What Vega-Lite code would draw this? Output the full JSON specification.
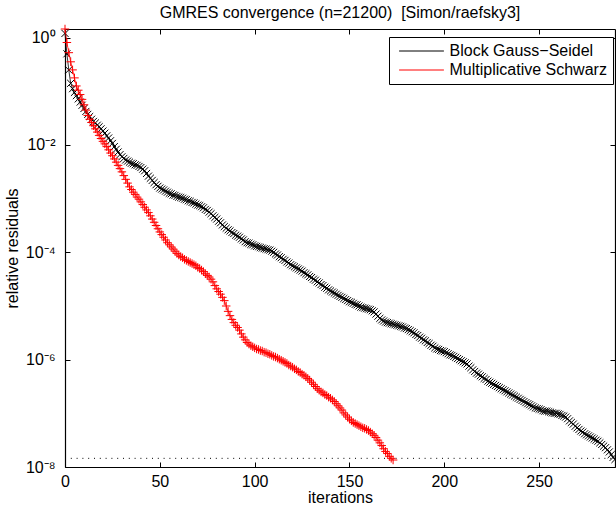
{
"$schema": "https://vega.github.io/schema/vega-lite/v6.json",
"autosize": {"type": "none"},
"padding": {"left": 65, "top": 29, "right": 1, "bottom": 40},
"width": 550,
"height": 438,
"title": {"text": "GMRES convergence (n=21200) \u00a0[Simon/raefsky3]", "fontSize": 16, "fontWeight": "normal", "font": "Liberation Sans", "color": "black", "offset": 2},
"config": {
  "view": {"stroke": null},
  "axis": {"grid": false, "domainColor": "black", "domainWidth": 1.2, "tickColor": "black", "tickWidth": 1, "tickSize": -5, "labelColor": "black", "titleColor": "black", "labelFont": "Liberation Sans", "titleFont": "Liberation Sans", "labelFontSize": 16, "titleFontSize": 16, "titleFontWeight": "normal"}
},
"datasets": {
"tol": [{"x0": 0, "x1": 290, "tol": 1.45e-8}],
"gs": [{"i":0,"r":1.2},{"i":1,"r":0.5},{"i":2,"r":0.25},{"i":3,"r":0.141},{"i":4,"r":0.112},{"i":5,"r":0.0955},{"i":6,"r":0.0832},{"i":7,"r":0.0724},{"i":8,"r":0.0631},{"i":9,"r":0.055},
{"i":10,"r":0.0479},{"i":11,"r":0.0422},{"i":12,"r":0.0372},{"i":13,"r":0.0339},{"i":14,"r":0.0302},{"i":15,"r":0.0275},{"i":16,"r":0.0257},{"i":17,"r":0.0234},{"i":18,"r":0.0219},{"i":19,"r":0.02},
{"i":20,"r":0.0182},{"i":21,"r":0.0166},{"i":22,"r":0.0148},{"i":23,"r":0.0135},{"i":24,"r":0.012},{"i":25,"r":0.0107},{"i":26,"r":0.00933},{"i":27,"r":0.00832},{"i":28,"r":0.00741},{"i":29,"r":0.00661},
{"i":30,"r":0.00603},{"i":31,"r":0.00562},{"i":32,"r":0.00525},{"i":33,"r":0.00501},{"i":34,"r":0.00479},{"i":35,"r":0.00457},{"i":36,"r":0.00447},{"i":37,"r":0.00427},{"i":38,"r":0.00417},{"i":39,"r":0.00398},
{"i":40,"r":0.0038},{"i":41,"r":0.00355},{"i":42,"r":0.00331},{"i":43,"r":0.00295},{"i":44,"r":0.00263},{"i":45,"r":0.0024},{"i":46,"r":0.00219},{"i":47,"r":0.002},{"i":48,"r":0.00182},{"i":49,"r":0.0017},
{"i":50,"r":0.00158},{"i":51,"r":0.00151},{"i":52,"r":0.00145},{"i":53,"r":0.00138},{"i":54,"r":0.00132},{"i":55,"r":0.00126},{"i":56,"r":0.00123},{"i":57,"r":0.00117},{"i":58,"r":0.00115},{"i":59,"r":0.0011},
{"i":60,"r":0.00107},{"i":61,"r":0.00105},{"i":62,"r":0.00102},{"i":63,"r":0.000977},{"i":64,"r":0.000955},{"i":65,"r":0.000912},{"i":66,"r":0.000891},{"i":67,"r":0.000851},{"i":68,"r":0.000832},{"i":69,"r":0.000794},
{"i":70,"r":0.000759},{"i":71,"r":0.000741},{"i":72,"r":0.000708},{"i":73,"r":0.000676},{"i":74,"r":0.000631},{"i":75,"r":0.000603},{"i":76,"r":0.000562},{"i":77,"r":0.000525},{"i":78,"r":0.000479},{"i":79,"r":0.000447},
{"i":80,"r":0.000417},{"i":81,"r":0.00038},{"i":82,"r":0.000355},{"i":83,"r":0.000324},{"i":84,"r":0.000302},{"i":85,"r":0.000282},{"i":86,"r":0.000263},{"i":87,"r":0.000251},{"i":88,"r":0.000234},{"i":89,"r":0.000224},
{"i":90,"r":0.000209},{"i":91,"r":0.0002},{"i":92,"r":0.000191},{"i":93,"r":0.000178},{"i":94,"r":0.00017},{"i":95,"r":0.000158},{"i":96,"r":0.000151},{"i":97,"r":0.000148},{"i":98,"r":0.000141},{"i":99,"r":0.000138},
{"i":100,"r":0.000132},{"i":101,"r":0.000129},{"i":102,"r":0.000126},{"i":103,"r":0.000123},{"i":104,"r":0.00012},{"i":105,"r":0.000117},{"i":106,"r":0.000115},{"i":107,"r":0.000112},{"i":108,"r":0.00011},{"i":109,"r":0.000105},
{"i":110,"r":0.0001},{"i":111,"r":9.33e-5},{"i":112,"r":8.91e-5},{"i":113,"r":8.32e-5},{"i":114,"r":7.94e-5},{"i":115,"r":7.41e-5},{"i":116,"r":7.08e-5},{"i":117,"r":6.61e-5},{"i":118,"r":6.31e-5},{"i":119,"r":5.89e-5},
{"i":120,"r":5.62e-5},{"i":121,"r":5.37e-5},{"i":122,"r":5.13e-5},{"i":123,"r":4.9e-5},{"i":124,"r":4.68e-5},{"i":125,"r":4.47e-5},{"i":126,"r":4.17e-5},{"i":127,"r":3.98e-5},{"i":128,"r":3.8e-5},{"i":129,"r":3.55e-5},
{"i":130,"r":3.39e-5},{"i":131,"r":3.16e-5},{"i":132,"r":3.02e-5},{"i":133,"r":2.82e-5},{"i":134,"r":2.69e-5},{"i":135,"r":2.51e-5},{"i":136,"r":2.4e-5},{"i":137,"r":2.24e-5},{"i":138,"r":2.14e-5},{"i":139,"r":2.0e-5},
{"i":140,"r":1.91e-5},{"i":141,"r":1.82e-5},{"i":142,"r":1.74e-5},{"i":143,"r":1.66e-5},{"i":144,"r":1.58e-5},{"i":145,"r":1.51e-5},{"i":146,"r":1.45e-5},{"i":147,"r":1.38e-5},{"i":148,"r":1.32e-5},{"i":149,"r":1.26e-5},
{"i":150,"r":1.2e-5},{"i":151,"r":1.17e-5},{"i":152,"r":1.12e-5},{"i":153,"r":1.07e-5},{"i":154,"r":1.05e-5},{"i":155,"r":1.0e-5},{"i":156,"r":9.55e-6},{"i":157,"r":9.33e-6},{"i":158,"r":9.12e-6},{"i":159,"r":8.91e-6},
{"i":160,"r":8.71e-6},{"i":161,"r":8.51e-6},{"i":162,"r":8.13e-6},{"i":163,"r":7.76e-6},{"i":164,"r":7.08e-6},{"i":165,"r":6.46e-6},{"i":166,"r":5.89e-6},{"i":167,"r":5.5e-6},{"i":168,"r":5.25e-6},{"i":169,"r":5.01e-6},
{"i":170,"r":4.9e-6},{"i":171,"r":4.79e-6},{"i":172,"r":4.68e-6},{"i":173,"r":4.57e-6},{"i":174,"r":4.47e-6},{"i":175,"r":4.37e-6},{"i":176,"r":4.27e-6},{"i":177,"r":4.17e-6},{"i":178,"r":4.07e-6},{"i":179,"r":3.89e-6},
{"i":180,"r":3.8e-6},{"i":181,"r":3.63e-6},{"i":182,"r":3.47e-6},{"i":183,"r":3.31e-6},{"i":184,"r":3.16e-6},{"i":185,"r":2.95e-6},{"i":186,"r":2.82e-6},{"i":187,"r":2.63e-6},{"i":188,"r":2.51e-6},{"i":189,"r":2.34e-6},
{"i":190,"r":2.24e-6},{"i":191,"r":2.09e-6},{"i":192,"r":2.0e-6},{"i":193,"r":1.86e-6},{"i":194,"r":1.78e-6},{"i":195,"r":1.66e-6},{"i":196,"r":1.58e-6},{"i":197,"r":1.55e-6},{"i":198,"r":1.48e-6},{"i":199,"r":1.45e-6},
{"i":200,"r":1.41e-6},{"i":201,"r":1.35e-6},{"i":202,"r":1.29e-6},{"i":203,"r":1.23e-6},{"i":204,"r":1.2e-6},{"i":205,"r":1.15e-6},{"i":206,"r":1.1e-6},{"i":207,"r":1.05e-6},{"i":208,"r":1.0e-6},{"i":209,"r":9.55e-7},
{"i":210,"r":9.12e-7},{"i":211,"r":8.71e-7},{"i":212,"r":8.32e-7},{"i":213,"r":7.59e-7},{"i":214,"r":7.08e-7},{"i":215,"r":6.46e-7},{"i":216,"r":6.03e-7},{"i":217,"r":5.62e-7},{"i":218,"r":5.37e-7},{"i":219,"r":5.01e-7},
{"i":220,"r":4.79e-7},{"i":221,"r":4.47e-7},{"i":222,"r":4.27e-7},{"i":223,"r":3.98e-7},{"i":224,"r":3.8e-7},{"i":225,"r":3.63e-7},{"i":226,"r":3.47e-7},{"i":227,"r":3.31e-7},{"i":228,"r":3.16e-7},{"i":229,"r":3.02e-7},
{"i":230,"r":2.88e-7},{"i":231,"r":2.75e-7},{"i":232,"r":2.63e-7},{"i":233,"r":2.51e-7},{"i":234,"r":2.4e-7},{"i":235,"r":2.29e-7},{"i":236,"r":2.19e-7},{"i":237,"r":2.09e-7},{"i":238,"r":2.0e-7},{"i":239,"r":1.91e-7},
{"i":240,"r":1.82e-7},{"i":241,"r":1.74e-7},{"i":242,"r":1.66e-7},{"i":243,"r":1.58e-7},{"i":244,"r":1.51e-7},{"i":245,"r":1.45e-7},{"i":246,"r":1.38e-7},{"i":247,"r":1.32e-7},{"i":248,"r":1.26e-7},{"i":249,"r":1.23e-7},
{"i":250,"r":1.2e-7},{"i":251,"r":1.17e-7},{"i":252,"r":1.12e-7},{"i":253,"r":1.1e-7},{"i":254,"r":1.1e-7},{"i":255,"r":1.07e-7},{"i":256,"r":1.05e-7},{"i":257,"r":1.02e-7},{"i":258,"r":1.0e-7},{"i":259,"r":1.0e-7},
{"i":260,"r":9.77e-8},{"i":261,"r":9.55e-8},{"i":262,"r":9.12e-8},{"i":263,"r":8.91e-8},{"i":264,"r":8.51e-8},{"i":265,"r":7.94e-8},{"i":266,"r":7.24e-8},{"i":267,"r":6.76e-8},{"i":268,"r":6.31e-8},{"i":269,"r":5.75e-8},
{"i":270,"r":5.37e-8},{"i":271,"r":5.01e-8},{"i":272,"r":4.68e-8},{"i":273,"r":4.47e-8},{"i":274,"r":4.17e-8},{"i":275,"r":3.98e-8},{"i":276,"r":3.8e-8},{"i":277,"r":3.63e-8},{"i":278,"r":3.47e-8},{"i":279,"r":3.31e-8},
{"i":280,"r":3.16e-8},{"i":281,"r":3.02e-8},{"i":282,"r":2.82e-8},{"i":283,"r":2.63e-8},{"i":284,"r":2.45e-8},{"i":285,"r":2.29e-8},{"i":286,"r":2.09e-8},{"i":287,"r":1.91e-8},{"i":288,"r":1.7e-8},{"i":289,"r":1.51e-8},
{"i":290,"r":1.38e-8}],
"ms": [{"i":0,"r":1.45},{"i":1,"r":0.813},{"i":2,"r":0.525},{"i":3,"r":0.355},{"i":4,"r":0.251},{"i":5,"r":0.178},{"i":6,"r":0.126},{"i":7,"r":0.105},{"i":8,"r":0.0871},{"i":9,"r":0.0708},
{"i":10,"r":0.0562},{"i":11,"r":0.0447},{"i":12,"r":0.0355},{"i":13,"r":0.0302},{"i":14,"r":0.0263},{"i":15,"r":0.0229},{"i":16,"r":0.02},{"i":17,"r":0.0174},{"i":18,"r":0.0151},{"i":19,"r":0.0132},
{"i":20,"r":0.0117},{"i":21,"r":0.0105},{"i":22,"r":0.00933},{"i":23,"r":0.00813},{"i":24,"r":0.00708},{"i":25,"r":0.00631},{"i":26,"r":0.0055},{"i":27,"r":0.00479},{"i":28,"r":0.00417},{"i":29,"r":0.00363},
{"i":30,"r":0.00316},{"i":31,"r":0.00269},{"i":32,"r":0.00229},{"i":33,"r":0.00195},{"i":34,"r":0.00166},{"i":35,"r":0.00148},{"i":36,"r":0.00132},{"i":37,"r":0.0012},{"i":38,"r":0.00107},{"i":39,"r":0.000977},
{"i":40,"r":0.000871},{"i":41,"r":0.000776},{"i":42,"r":0.000692},{"i":43,"r":0.000617},{"i":44,"r":0.00055},{"i":45,"r":0.000479},{"i":46,"r":0.000417},{"i":47,"r":0.000363},{"i":48,"r":0.000316},{"i":49,"r":0.000275},
{"i":50,"r":0.00024},{"i":51,"r":0.000214},{"i":52,"r":0.000191},{"i":53,"r":0.00017},{"i":54,"r":0.000151},{"i":55,"r":0.000138},{"i":56,"r":0.000126},{"i":57,"r":0.000115},{"i":58,"r":0.000105},{"i":59,"r":9.55e-5},
{"i":60,"r":8.91e-5},{"i":61,"r":8.32e-5},{"i":62,"r":7.94e-5},{"i":63,"r":7.41e-5},{"i":64,"r":7.08e-5},{"i":65,"r":6.76e-5},{"i":66,"r":6.46e-5},{"i":67,"r":6.17e-5},{"i":68,"r":5.89e-5},{"i":69,"r":5.62e-5},
{"i":70,"r":5.25e-5},{"i":71,"r":5.01e-5},{"i":72,"r":4.68e-5},{"i":73,"r":4.37e-5},{"i":74,"r":3.98e-5},{"i":75,"r":3.72e-5},{"i":76,"r":3.47e-5},{"i":77,"r":3.16e-5},{"i":78,"r":2.82e-5},{"i":79,"r":2.4e-5},
{"i":80,"r":2.09e-5},{"i":81,"r":1.86e-5},{"i":82,"r":1.66e-5},{"i":83,"r":1.45e-5},{"i":84,"r":1.26e-5},{"i":85,"r":1.0e-5},{"i":86,"r":7.94e-6},{"i":87,"r":6.61e-6},{"i":88,"r":5.62e-6},{"i":89,"r":4.9e-6},
{"i":90,"r":4.37e-6},{"i":91,"r":3.98e-6},{"i":92,"r":3.55e-6},{"i":93,"r":3.02e-6},{"i":94,"r":2.63e-6},{"i":95,"r":2.34e-6},{"i":96,"r":2.09e-6},{"i":97,"r":1.95e-6},{"i":98,"r":1.82e-6},{"i":99,"r":1.74e-6},
{"i":100,"r":1.66e-6},{"i":101,"r":1.58e-6},{"i":102,"r":1.55e-6},{"i":103,"r":1.48e-6},{"i":104,"r":1.45e-6},{"i":105,"r":1.38e-6},{"i":106,"r":1.35e-6},{"i":107,"r":1.29e-6},{"i":108,"r":1.26e-6},{"i":109,"r":1.2e-6},
{"i":110,"r":1.15e-6},{"i":111,"r":1.12e-6},{"i":112,"r":1.07e-6},{"i":113,"r":1.02e-6},{"i":114,"r":9.77e-7},{"i":115,"r":9.33e-7},{"i":116,"r":8.91e-7},{"i":117,"r":8.51e-7},{"i":118,"r":7.94e-7},{"i":119,"r":7.59e-7},
{"i":120,"r":7.24e-7},{"i":121,"r":6.76e-7},{"i":122,"r":6.46e-7},{"i":123,"r":6.03e-7},{"i":124,"r":5.75e-7},{"i":125,"r":5.37e-7},{"i":126,"r":5.13e-7},{"i":127,"r":4.79e-7},{"i":128,"r":4.47e-7},{"i":129,"r":4.17e-7},
{"i":130,"r":3.8e-7},{"i":131,"r":3.47e-7},{"i":132,"r":3.16e-7},{"i":133,"r":2.88e-7},{"i":134,"r":2.69e-7},{"i":135,"r":2.51e-7},{"i":136,"r":2.4e-7},{"i":137,"r":2.24e-7},{"i":138,"r":2.14e-7},{"i":139,"r":2.0e-7},
{"i":140,"r":1.91e-7},{"i":141,"r":1.78e-7},{"i":142,"r":1.66e-7},{"i":143,"r":1.51e-7},{"i":144,"r":1.38e-7},{"i":145,"r":1.26e-7},{"i":146,"r":1.15e-7},{"i":147,"r":1.02e-7},{"i":148,"r":9.33e-8},{"i":149,"r":8.51e-8},
{"i":150,"r":7.76e-8},{"i":151,"r":7.24e-8},{"i":152,"r":6.76e-8},{"i":153,"r":6.46e-8},{"i":154,"r":6.17e-8},{"i":155,"r":5.89e-8},{"i":156,"r":5.62e-8},{"i":157,"r":5.37e-8},{"i":158,"r":5.25e-8},{"i":159,"r":5.01e-8},
{"i":160,"r":4.79e-8},{"i":161,"r":4.47e-8},{"i":162,"r":4.17e-8},{"i":163,"r":3.89e-8},{"i":164,"r":3.55e-8},{"i":165,"r":3.16e-8},{"i":166,"r":2.82e-8},{"i":167,"r":2.51e-8},{"i":168,"r":2.19e-8},{"i":169,"r":1.95e-8},
{"i":170,"r":1.78e-8},{"i":171,"r":1.58e-8},{"i":172,"r":1.45e-8},{"i":173,"r":1.35e-8}]
},
"resolve": {"axis": {"x": "independent", "y": "independent"}},
"layer": [
  {
    "data": {"name": "tol"},
    "mark": {"type": "rule", "color": "black", "strokeWidth": 1, "strokeDash": [1, 4.8]},
    "encoding": {
      "x": {"field": "x0", "type": "quantitative", "scale": {"domain": [0, 290], "nice": false, "zero": false},
            "axis": {"orient": "bottom", "values": [0, 50, 100, 150, 200, 250], "labelPadding": 11, "title": "iterations", "titlePadding": 0, "labelFlush": false}},
      "x2": {"field": "x1"},
      "y": {"field": "tol", "type": "quantitative", "scale": {"type": "log", "domain": [1e-8, 1.45], "nice": false},
            "axis": {"orient": "left", "values": [1e-8, 1e-6, 1e-4, 1e-2, 1], "labelPadding": 15, "title": "relative residuals", "titlePadding": 5,
                     "labelExpr": "datum.value > 0.5 ? '10⁰' : datum.value > 1e-3 ? '10⁻²' : datum.value > 1e-5 ? '10⁻⁴' : datum.value > 1e-7 ? '10⁻⁶' : '10⁻⁸'"}}
    }
  },
  {
    "data": {"name": "gs"},
    "mark": {"type": "line", "strokeWidth": 0.8, "clip": false},
    "encoding": {
      "x": {"field": "i", "type": "quantitative", "axis": {"orient": "top", "labels": false, "title": null, "values": [0, 50, 100, 150, 200, 250]}},
      "y": {"field": "r", "type": "quantitative", "axis": {"orient": "right", "labels": false, "title": null, "values": [1e-8, 1e-6, 1e-4, 1e-2, 1]}},
      "color": {"datum": "Block Gauss−Seidel", "type": "nominal",
                "scale": {"domain": ["Block Gauss−Seidel", "Multiplicative Schwarz"], "range": ["black", "red"]},
                "legend": {"orient": "none", "legendX": 324, "legendY": 8, "title": null, "strokeColor": "black", "fillColor": "white", "padding": 6,
                           "labelFontSize": 16, "labelFont": "Liberation Sans", "labelColor": "black", "symbolType": "M-3.2,0L3.2,0", "symbolSize": 196, "symbolStrokeWidth": 1,
                           "symbolOffset": 18.5, "labelOffset": 20, "rowPadding": 3, "labelLimit": 400, "cornerRadius": 0}}
    }
  },
  {
    "data": {"name": "gs"},
    "mark": {"type": "point", "shape": "M-1,-1L1,1M-1,1L1,-1", "filled": false, "size": 50, "strokeWidth": 1, "color": "black", "opacity": 1, "clip": false},
    "encoding": {
      "x": {"field": "i", "type": "quantitative", "axis": null},
      "y": {"field": "r", "type": "quantitative", "axis": null}
    }
  },
  {
    "data": {"name": "ms"},
    "mark": {"type": "line", "strokeWidth": 0.8, "clip": false},
    "encoding": {
      "x": {"field": "i", "type": "quantitative", "axis": null},
      "y": {"field": "r", "type": "quantitative", "axis": null},
      "color": {"datum": "Multiplicative Schwarz", "type": "nominal"}
    }
  },
  {
    "data": {"name": "ms"},
    "mark": {"type": "point", "shape": "M-1,0L1,0M0,-1L0,1", "filled": false, "size": 72, "strokeWidth": 1, "color": "red", "opacity": 1, "clip": false},
    "encoding": {
      "x": {"field": "i", "type": "quantitative", "axis": null},
      "y": {"field": "r", "type": "quantitative", "axis": null}
    }
  }
]
}
